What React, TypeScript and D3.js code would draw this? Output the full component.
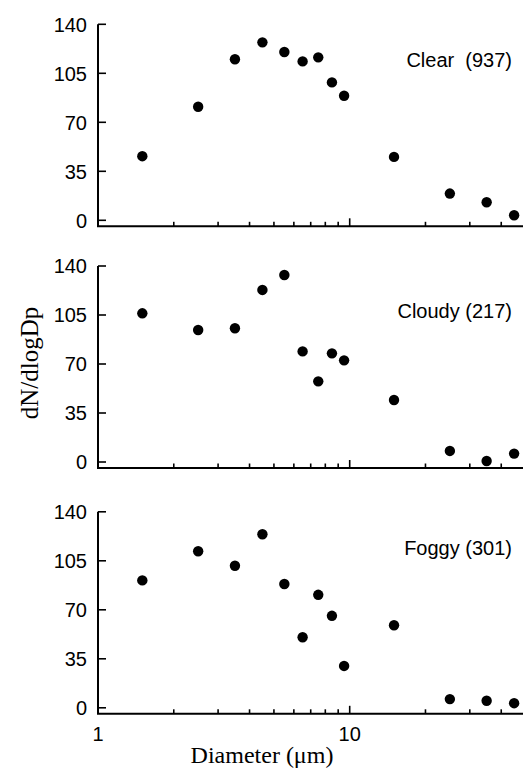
import React from "react";
import * as d3 from "d3";

const diameters = [1.5, 2.5, 3.5, 4.5, 5.5, 6.5, 7.5, 8.5, 9.5, 15, 25, 35, 45];
const clearValues = [45.8, 81.1, 115, 127.1, 120.2, 113.5, 116.4, 98.5, 89, 45.3, 19.1, 12.9, 3.6];
const cloudyValues = [106.2, 94.3, 95.5, 122.9, 133.6, 79, 57.6, 77.6, 72.6, 44.3, 7.9, 0.7, 6];
const foggyValues = [91, 111.8, 101.5, 124, 88.4, 50.4, 80.7, 65.7, 29.9, 59, 6.2, 5, 3.3];
const panelLabels = ["Clear  (937)", "Cloudy (217)", "Foggy (301)"];
const labelValues = [109.5, 102.8, 108.8];
const yTicks = [0, 35, 70, 105, 140];
const xMajorTicks = [1, 10];
const xMinorTicks = [2, 3, 4, 5, 6, 7, 8, 9, 20, 30, 40];
const series = [clearValues, cloudyValues, foggyValues];

const W = 523;
const H = 770;
const left = 98;
const panelTops = [24.3, 266, 511.8];
const plotH = 196;

export default function App() {
  const x = d3.scaleLog().domain([1, 10]).range([left, 349.7]);
  const xRight = W;
  const sans = "'Liberation Sans', Arial, sans-serif";
  const serif = "'Liberation Serif', 'Times New Roman', serif";
  return (
    <svg width={W} height={H} style={{ position: "absolute", left: 0, top: 0, background: "#fff" }}>
      {series.map((vals, i) => {
        const top = panelTops[i];
        const y = d3.scaleLinear().domain([0, 140]).range([top + plotH, top]);
        const axisY = y(0) + 6;
        return (
          <g key={i}>
            {/* y axis */}
            <line x1={left} x2={left} y1={y(140)} y2={axisY} stroke="#000" strokeWidth={2} />
            {yTicks.map((t) => (
              <g key={t}>
                <line x1={left} x2={left + 8} y1={y(t)} y2={y(t)} stroke="#000" strokeWidth={1.6} />
                <text x={left - 11} y={y(t)} dy="0.36em" textAnchor="end" fontFamily={sans} fontSize={20} fill="#000">
                  {t}
                </text>
              </g>
            ))}
            {/* x axis */}
            <line x1={left - 1} x2={xRight} y1={axisY} y2={axisY} stroke="#000" strokeWidth={2} />
            {xMinorTicks.map((t) => (
              <line key={t} x1={x(t)} x2={x(t)} y1={axisY} y2={axisY - 4.5} stroke="#000" strokeWidth={1.6} />
            ))}
            {xMajorTicks.filter((t) => t > 1).map((t) => (
              <line key={t} x1={x(t)} x2={x(t)} y1={axisY} y2={axisY - 8} stroke="#000" strokeWidth={1.6} />
            ))}
            {i === 2 &&
              xMajorTicks.map((t) => (
                <text key={t} x={x(t)} y={axisY + 27} textAnchor="middle" fontFamily={sans} fontSize={20} fill="#000">
                  {t}
                </text>
              ))}
            {vals.map((v, j) => (
              <circle key={j} cx={x(diameters[j])} cy={y(v)} r={5.2} fill="#000" />
            ))}
            <text x={512} y={y(labelValues[i])} textAnchor="end" fontFamily={sans} fontSize={20} fill="#000" style={{ whiteSpace: "pre" }}>
              {panelLabels[i]}
            </text>
          </g>
        );
      })}
      <text
        transform={`translate(38,363) rotate(-90)`}
        textAnchor="middle"
        fontFamily={serif}
        fontSize={25}
        fill="#000"
      >
        dN/dlogDp
      </text>
      <text x={262} y={763} textAnchor="middle" fontFamily={serif} fontSize={24} fill="#000">
        Diameter (μm)
      </text>
    </svg>
  );
}
